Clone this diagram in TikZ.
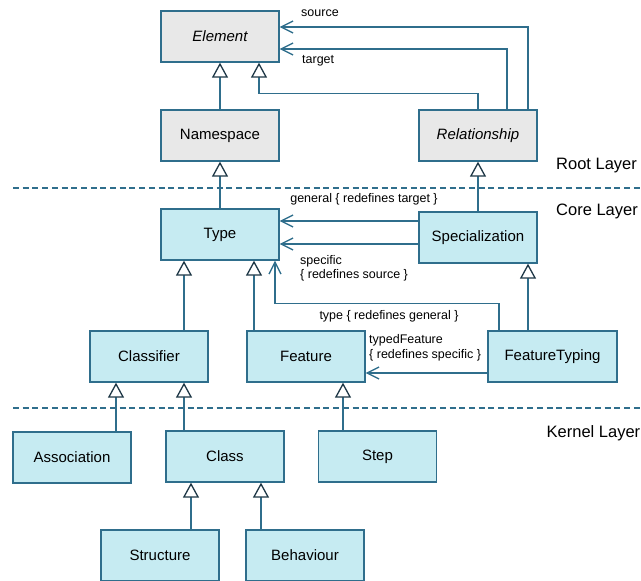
\documentclass[tikz,border=0pt]{standalone}
\usepackage{fontspec}
\setmainfont{Liberation Sans}
\usetikzlibrary{arrows.meta}
\definecolor{box-fill}{RGB}{198,235,242}
\definecolor{root-fill}{RGB}{232,232,232}
\definecolor{edge}{RGB}{47,110,140}
\definecolor{tip}{RGB}{30,55,70}
\tikzset{
    uml-box/.style = {draw=edge, fill=box-fill, line width=1.3pt, rectangle, minimum width=118pt, minimum height=51pt, inner sep=0pt, font=\fontsize{15}{18}\selectfont},
    root-box/.style = {uml-box, fill=root-fill},
    gen-line/.style = {draw=edge, line width=1.3pt, -{Triangle[length=15pt, width=16pt, color=tip, fill=white]}},
    assoc-line/.style = {draw=edge, line width=1.3pt, -{Straight Barb[length=12pt, width=12pt]}},
    role-label/.style = {font=\fontsize{12.5}{14.5}\selectfont, inner sep=0pt, anchor=west, align=left},
    layer-label/.style = {font=\fontsize{16.5}{19}\selectfont, inner sep=0pt, anchor=west},
    layer-line/.style = {draw=edge, line width=1.3pt, dash pattern=on 6pt off 3.7pt},
}
\begin{document}
\begin{tikzpicture}[x=1pt, y=-1pt]
\useasboundingbox (0,0) rectangle (641,581);
\node[root-box, font=\fontsize{15}{18}\selectfont\itshape] (element) at (220,36.5) {Element};
\node[root-box] (namespace) at (220,135.5) {Namespace};
\node[root-box, font=\fontsize{15}{18}\selectfont\itshape] (relationship) at (478,135.5) {Relationship};
\node[uml-box] (type) at (220,234.5) {Type};
\node[uml-box] (specialization) at (478,237.5) {Specialization};
\node[uml-box] (classifier) at (149,356.5) {Classifier};
\node[uml-box] (feature) at (306,356.5) {Feature};
\node[uml-box, minimum width=129pt] (featuretyping) at (552.5,356.5) {FeatureTyping};
\node[uml-box] (association) at (72,457.5) {Association};
\node[uml-box] (class) at (225,456.5) {Class};
\node[uml-box] (step) at (377.5,456.5) {Step};
\node[uml-box] (structure) at (160,555.5) {Structure};
\node[uml-box] (behaviour) at (305,555.5) {Behaviour};

\draw[layer-line] (13,188) -- (641,188);
\draw[layer-line] (13,408) -- (641,408);
\node[layer-label] (root-layer) at (556,166) {Root Layer};
\node[layer-label] (core-layer) at (556,211.5) {Core Layer};
\node[layer-label] (kernel-layer) at (546.5,433.5) {Kernel Layer};

\draw[gen-line] (namespace) -- (element);
\draw[gen-line] (relationship.north) -- ++(0,-16) -| ([xshift=39pt]element.south);
\draw[assoc-line] ([xshift=50pt]relationship.north) |- ([yshift=9.5pt]element.east);
\draw[assoc-line] ([xshift=29pt]relationship.north) |- ([yshift=-12.5pt]element.east);
\node[role-label] (source-label) at (301,13) {source};
\node[role-label] (target-label) at (302,61) {target};

\draw[gen-line] (type) -- (namespace);
\draw[gen-line] (specialization) -- (relationship);
\draw[assoc-line] ([yshift=16.5pt]specialization.west) -- ([yshift=13.5pt]type.east);
\draw[assoc-line] ([yshift=-6.5pt]specialization.west) -- ([yshift=-9.5pt]type.east);
\node[role-label, anchor=center] (general-label) at (364,199) {general \{ redefines target \}};
\node[role-label] (specific-label) at (300,268.5) {specific\\\{ redefines source \}};
\draw[assoc-line] ([xshift=-53.5pt]featuretyping.north) -- ++(0,-27) -| ([xshift=55pt]type.south);
\node[role-label, anchor=center] (type-label) at (389,316) {type \{ redefines general \}};

\draw[gen-line] ([xshift=35pt]classifier.north) -- ([xshift=-36pt]type.south);
\draw[gen-line] ([xshift=-52pt]feature.north) -- ([xshift=34pt]type.south);
\draw[gen-line] ([xshift=-24.5pt]featuretyping.north) -- ([xshift=50pt]specialization.south);
\draw[assoc-line] ([yshift=-16.5pt]featuretyping.west) -- ([yshift=-16.5pt]feature.east);
\node[role-label] (typed-label) at (369,348) {typedFeature\\\{ redefines specific \}};

\draw[gen-line] ([xshift=44pt]association.north) -- ([xshift=-33pt]classifier.south);
\draw[gen-line] ([xshift=-41pt]class.north) -- ([xshift=35pt]classifier.south);
\draw[gen-line] ([xshift=-34.5pt]step.north) -- ([xshift=37pt]feature.south);
\draw[gen-line] ([xshift=31pt]structure.north) -- ([xshift=-34pt]class.south);
\draw[gen-line] ([xshift=-44pt]behaviour.north) -- ([xshift=36pt]class.south);
\end{tikzpicture}
\end{document}
